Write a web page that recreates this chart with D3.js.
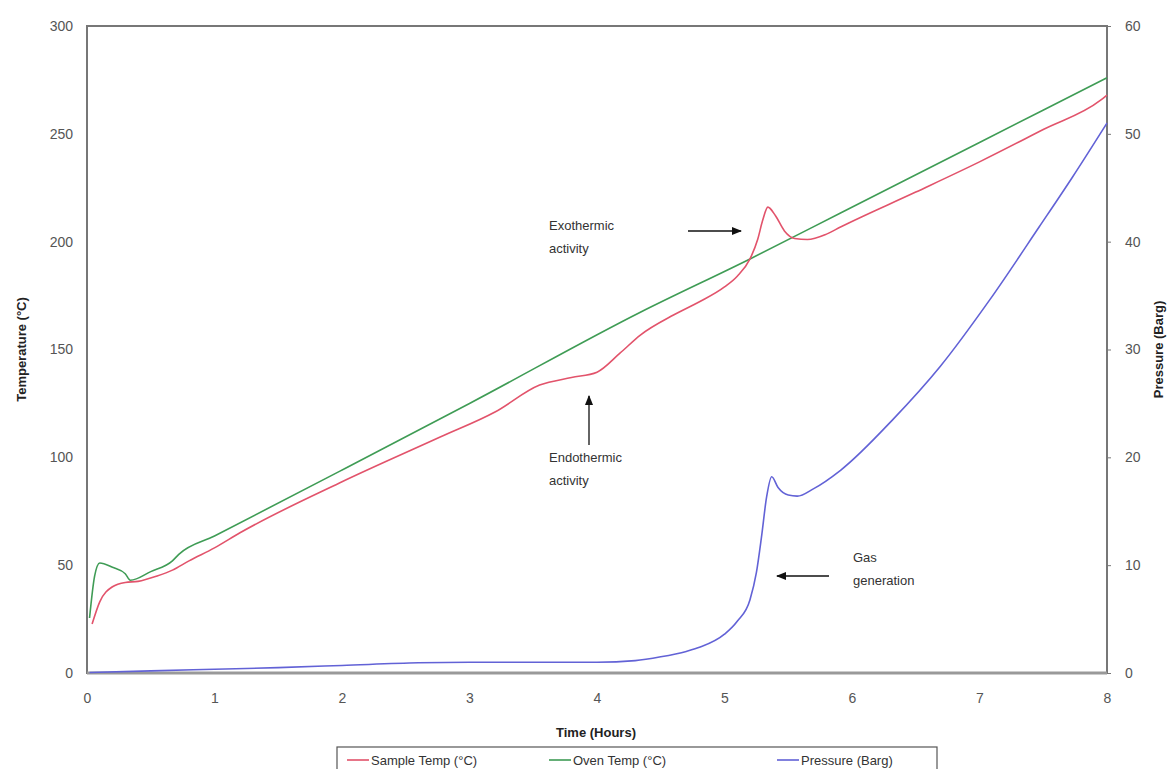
<!DOCTYPE html>
<html>
<head>
<meta charset="utf-8">
<script src="https://cdn.jsdelivr.net/npm/d3@7"></script>
<style>
  body { margin: 0; background: #fff; }
  svg { font-family: "Liberation Sans", Arial, sans-serif; }
</style>
</head>
<body>
<div id="chart"></div>
<script>
var svgWidth = 1168;
var svgHeight = 769;

var margin = { top: 26, right: 61, bottom: 96, left: 87 };
var width = svgWidth - margin.left - margin.right;
var height = svgHeight - margin.top - margin.bottom;

// Sample temperature (°C) vs time (hours)
var sampleTime = [0.04, 0.1, 0.2, 0.3, 0.4, 0.55, 0.67, 0.8, 1.0, 1.2, 1.98, 2.77, 3.2, 3.55, 3.8, 4.0, 4.18, 4.34, 4.6, 4.8, 5.0, 5.1, 5.2, 5.26, 5.3, 5.34, 5.4, 5.47, 5.55, 5.65, 5.8, 5.91, 6.5, 7.0, 7.5, 7.95, 8.0];
var sampleTemp = [22.7, 33, 40, 42, 42.5, 45, 47.7, 52, 58, 65, 88.1, 109.4, 121, 133.5, 137, 139.5, 148.3, 156.7, 166, 172, 179, 184, 192, 201, 210, 216, 212, 205, 201.5, 201, 203.5, 206.8, 223, 237, 252, 265.6, 268];

// Oven temperature (°C) vs time (hours)
var ovenTime = [0.02, 0.06, 0.1, 0.2, 0.3, 0.34, 0.5, 0.67, 0.72, 1.0, 1.98, 3.0, 4.34, 5.2, 5.91, 7.0, 8.0];
var ovenTemp = [25.5, 45, 51, 49, 46, 43, 47, 52, 55, 63.5, 93.5, 125, 167.3, 192, 213.3, 246, 276];

// Pressure (Barg) vs time (hours)
var pressTime = [0.02, 0.5, 1.0, 1.5, 2.0, 2.6, 3.0, 3.5, 4.0, 4.3, 4.5, 4.7, 4.81, 5.0, 5.1, 5.2, 5.25, 5.29, 5.33, 5.37, 5.42, 5.5, 5.57, 5.7, 5.91, 6.32, 6.69, 7.08, 7.47, 7.73, 8.0];
var pressure = [0.05, 0.2, 0.35, 0.5, 0.7, 0.95, 1.0, 1.0, 1.0, 1.15, 1.5, 2.0, 2.4, 3.6, 4.8, 6.8, 9.3, 12.6, 16.3, 18.2, 17.2, 16.5, 16.4, 17.1, 18.8, 23.5, 28.4, 34.6, 41.4, 46.0, 51.0];

var xTicks = [0, 1, 2, 3, 4, 5, 6, 7, 8];
var tempTicks = [0, 50, 100, 150, 200, 250, 300];
var pressTicks = [0, 10, 20, 30, 40, 50, 60];

var svg = d3.select("#chart")
  .append("svg")
  .attr("width", svgWidth)
  .attr("height", svgHeight);

var chartGroup = svg.append("g")
  .attr("transform", `translate(${margin.left}, ${margin.top})`);

var xScale = d3.scaleLinear().domain([0, 8]).range([0, width]);
var yTemp = d3.scaleLinear().domain([0, 300]).range([height, 0]);
var yPress = d3.scaleLinear().domain([0, 60]).range([height, 0]);

// axes
var bottomAxis = d3.axisBottom(xScale).tickValues(xTicks).tickSize(0).tickPadding(20);
var leftAxis = d3.axisLeft(yTemp).tickValues(tempTicks).tickSize(0).tickPadding(14);
var rightAxis = d3.axisRight(yPress).tickValues(pressTicks).tickSize(4).tickPadding(8);

var xAxisG = chartGroup.append("g")
  .attr("transform", `translate(0, ${height})`)
  .call(bottomAxis);
var yAxisG = chartGroup.append("g").call(leftAxis);
var y2AxisG = chartGroup.append("g")
  .attr("transform", `translate(${width}, 0)`)
  .call(rightAxis);

[xAxisG, yAxisG, y2AxisG].forEach(function(g) {
  g.select(".domain").remove();
  g.selectAll("text")
    .attr("font-size", "14px")
    .attr("fill", "#555")
    .attr("font-family", "'Liberation Sans', Arial, sans-serif");
  g.selectAll("line").attr("stroke", "#777");
});
y2AxisG.selectAll("text").attr("dx", "6px");

// plot border
chartGroup.append("rect")
  .attr("width", width)
  .attr("height", height)
  .attr("fill", "none")
  .attr("stroke", "#777")
  .attr("stroke-width", 2);
chartGroup.append("line")
  .attr("x1", 0).attr("x2", width)
  .attr("y1", height).attr("y2", height)
  .attr("stroke", "#999")
  .attr("stroke-width", 3);

// lines
function drawLine(times, values, yScale, color) {
  var pts = times.map(function(t, i) { return [t, values[i]]; });
  var line = d3.line()
    .x(d => xScale(d[0]))
    .y(d => yScale(d[1]))
    .curve(d3.curveMonotoneX);
  chartGroup.append("path")
    .datum(pts)
    .attr("d", line)
    .attr("fill", "none")
    .attr("stroke", color)
    .attr("stroke-width", 1.6);
}

drawLine(ovenTime, ovenTemp, yTemp, "#3f9c55");
drawLine(sampleTime, sampleTemp, yTemp, "#e2536b");
drawLine(pressTime, pressure, yPress, "#6262d6");

// axis titles
svg.append("text")
  .attr("transform", "rotate(-90)")
  .attr("x", -(margin.top + height / 2))
  .attr("y", 26)
  .attr("text-anchor", "middle")
  .attr("font-size", "13px")
  .attr("font-weight", "bold")
  .attr("fill", "#222")
  .text("Temperature (°C)");

svg.append("text")
  .attr("transform", "rotate(-90)")
  .attr("x", -(margin.top + height / 2))
  .attr("y", 1163)
  .attr("text-anchor", "middle")
  .attr("font-size", "13px")
  .attr("font-weight", "bold")
  .attr("fill", "#222")
  .text("Pressure (Barg)");

svg.append("text")
  .attr("x", 596)
  .attr("y", 737)
  .attr("text-anchor", "middle")
  .attr("font-size", "13px")
  .attr("font-weight", "bold")
  .attr("fill", "#222")
  .text("Time (Hours)");

// annotations
svg.append("defs").append("marker")
  .attr("id", "arrow")
  .attr("viewBox", "0 0 10 10")
  .attr("refX", 9).attr("refY", 5)
  .attr("markerWidth", 8).attr("markerHeight", 8)
  .attr("orient", "auto")
  .append("path")
  .attr("d", "M0,1 L10,5 L0,9 Z")
  .attr("fill", "#111");

function note(lines, x, y) {
  var t = svg.append("text")
    .attr("x", x).attr("y", y)
    .attr("font-size", "13px")
    .attr("fill", "#333");
  lines.forEach(function(s, i) {
    t.append("tspan").attr("x", x).attr("dy", i === 0 ? 0 : "1.75em").text(s);
  });
}
function arrow(x1, y1, x2, y2) {
  svg.append("line")
    .attr("x1", x1).attr("y1", y1).attr("x2", x2).attr("y2", y2)
    .attr("stroke", "#111")
    .attr("stroke-width", 1.3)
    .attr("marker-end", "url(#arrow)");
}

note(["Exothermic", "activity"], 549, 230);
arrow(688, 231, 741, 231);

note(["Endothermic", "activity"], 549, 462);
arrow(589, 445, 589, 396);

note(["Gas", "generation"], 853, 562);
arrow(829, 576, 777, 576);

// legend
var legendItems = [
  { label: "Sample Temp (°C)", color: "#e2536b", x: 347 },
  { label: "Oven Temp (°C)", color: "#3f9c55", x: 549 },
  { label: "Pressure (Barg)", color: "#6262d6", x: 777 }
];

svg.append("rect")
  .attr("x", 337).attr("y", 747)
  .attr("width", 600).attr("height", 30)
  .attr("fill", "#fff")
  .attr("stroke", "#555")
  .attr("stroke-width", 1.2);

var legend = svg.selectAll(".legend-item")
  .data(legendItems)
  .enter()
  .append("g")
  .attr("transform", d => `translate(${d.x}, 760)`);

legend.append("line")
  .attr("x1", 0).attr("x2", 22)
  .attr("y1", 0).attr("y2", 0)
  .attr("stroke", d => d.color)
  .attr("stroke-width", 1.6);

legend.append("text")
  .attr("x", 24)
  .attr("y", 5)
  .attr("font-size", "13px")
  .attr("fill", "#333")
  .text(d => d.label);
</script>
</body>
</html>
